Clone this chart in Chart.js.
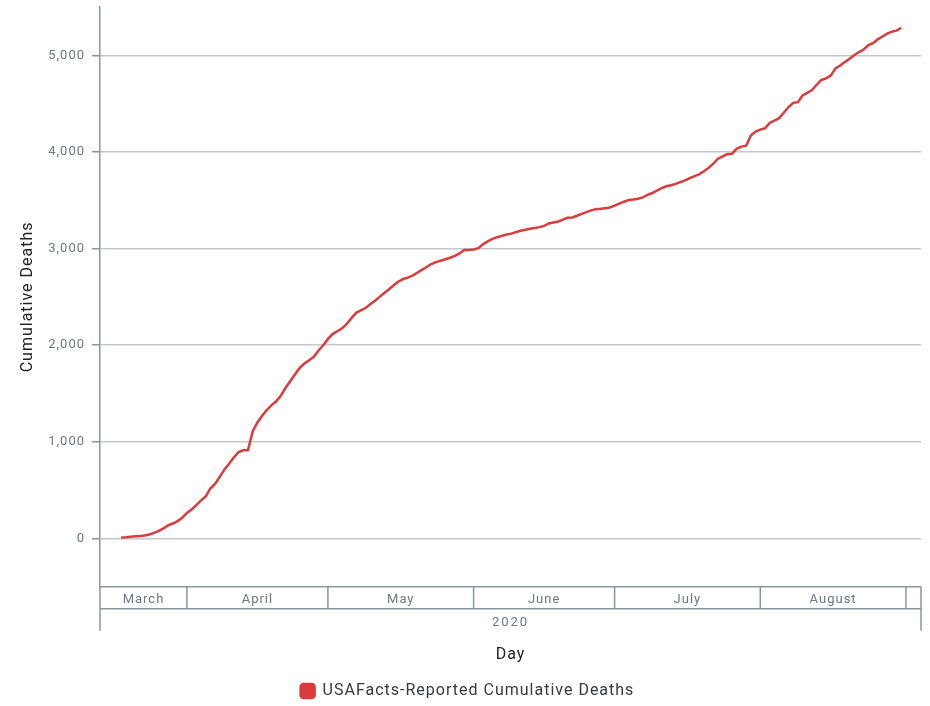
<!DOCTYPE html>
<html>
<head>
<meta charset="utf-8">
<script src="https://cdn.jsdelivr.net/npm/chart.js@4.4.1/dist/chart.umd.min.js"></script>
<style>
  html, body { margin: 0; padding: 0; background: #ffffff; }
  #wrap { width: 930px; height: 706px; position: relative; }
</style>
</head>
<body>
<div id="wrap"><canvas id="c"></canvas></div>
<script>
// Day index: 0 = March 1, 2020
const firstDay = 17; // March 18
const deaths = [
  10, 13, 18, 22, 25, 30, 42, 58, 78, 105, 135, 155, 180, 215,
  265, 300, 345, 395, 435, 520, 565, 640, 715, 775, 840, 895, 912, 915, 1110, 1200,
  1270, 1330, 1380, 1420, 1480, 1560, 1630, 1700, 1765, 1810, 1845, 1880, 1945, 2000,
  2065, 2115, 2145, 2175, 2220, 2280, 2335, 2360, 2385, 2425, 2460, 2500, 2540, 2580,
  2620, 2660, 2685, 2700, 2720, 2750, 2780, 2810, 2840, 2860, 2875, 2890, 2905, 2925,
  2950, 2985, 2985,
  2990, 3005, 3045, 3075, 3100, 3118, 3132, 3145, 3155, 3170, 3185, 3195, 3205, 3212,
  3222, 3235, 3260, 3270, 3280, 3300, 3318, 3322, 3340, 3360, 3378, 3395, 3408, 3412,
  3418, 3425,
  3445, 3465, 3485, 3503, 3508, 3515, 3530, 3555, 3575, 3600, 3625, 3645, 3656, 3670,
  3688, 3705, 3730, 3750, 3768, 3800, 3835, 3880, 3930, 3955, 3978, 3982, 4035, 4055,
  4065, 4170, 4210,
  4231, 4245, 4300, 4325, 4350, 4405, 4465, 4508, 4515, 4585, 4612, 4640, 4695, 4745,
  4761, 4790, 4865, 4895, 4930, 4965, 5000, 5034, 5060, 5105, 5125, 5165, 5195, 5225,
  5245, 5255, 5285
];
const monthNames = ['March', 'April', 'May', 'June', 'July', 'August', ''];
const monthStarts = [0, 31, 61, 92, 122, 153, 184];
const monthEnds = [31, 61, 92, 122, 153, 184, 214];
const yearLabel = '2020';
const yTicks = [0, 1000, 2000, 3000, 4000, 5000];

const points = deaths.map((v, i) => ({ x: firstDay + i, y: v }));

const axisColor = '#8b959d';
const tickColor = '#6b7886';
const fontFamily = 'Roboto, "DejaVu Sans", sans-serif';

const spacing = {
  id: 'spacing',
  beforeUpdate(chart) { chart.ctx.letterSpacing = '1px'; },
  beforeLayout(chart) { chart.ctx.letterSpacing = '1px'; },
  afterLayout(chart) {
    if (chart.legend) { chart.legend.left += 7; chart.legend.right += 7; }
  },
  beforeDraw(chart) { chart.ctx.letterSpacing = '1px'; }
};

const monthBoxes = {
  id: 'monthBoxes',
  afterDraw(chart) {
    const { ctx, chartArea } = chart;
    const xs = chart.scales.x;
    const top = chartArea.bottom;
    const rowH = 22;
    const left = chartArea.left, right = chartArea.right;
    ctx.save();
    ctx.strokeStyle = axisColor;
    ctx.lineWidth = 1.5;
    ctx.beginPath();
    ctx.moveTo(left, top); ctx.lineTo(right, top);
    ctx.moveTo(left, top + rowH); ctx.lineTo(right, top + rowH);
    ctx.moveTo(left, top); ctx.lineTo(left, top + rowH * 2);
    ctx.moveTo(right, top); ctx.lineTo(right, top + rowH * 2);
    for (let i = 0; i < monthStarts.length; i++) {
      const px = xs.getPixelForValue(monthStarts[i]);
      if (px > left + 1 && px < right - 1) {
        ctx.moveTo(px, top); ctx.lineTo(px, top + rowH);
      }
    }
    ctx.stroke();
    ctx.fillStyle = tickColor;
    ctx.font = '13px ' + fontFamily;
    ctx.textAlign = 'center';
    ctx.textBaseline = 'middle';
    ctx.letterSpacing = '1px';
    for (let i = 0; i < monthNames.length; i++) {
      const a = Math.max(left, xs.getPixelForValue(monthStarts[i]));
      const b = Math.min(right, xs.getPixelForValue(monthEnds[i]));
      if (b - a > 40 && monthNames[i]) {
        ctx.fillText(monthNames[i], (a + b) / 2, top + rowH / 2 + 2);
      }
    }
    ctx.letterSpacing = '2px';
    ctx.fillText(yearLabel, (left + right) / 2, top + rowH + 14);
    ctx.restore();
  }
};

new Chart(document.getElementById('c'), {
  type: 'line',
  data: {
    datasets: [{
      label: 'USAFacts-Reported Cumulative Deaths',
      data: points,
      borderColor: '#dc3a3c',
      backgroundColor: '#dc3a3c',
      borderWidth: 2.5,
      pointRadius: 0,
      tension: 0,
      fill: false
    }]
  },
  options: {
    responsive: true,
    maintainAspectRatio: false,
    devicePixelRatio: 1,
    animation: false,
    layout: { padding: { top: 7, right: 9, left: 0, bottom: -3 } },
    plugins: {
      tooltip: { enabled: false },
      legend: {
        position: 'bottom',
        labels: {
          boxWidth: 14,
          boxHeight: 14,
          useBorderRadius: true,
          borderRadius: 3,
          padding: 6,
          color: '#333a40',
          font: { size: 16, family: fontFamily }
        }
      }
    },
    scales: {
      x: {
        type: 'linear',
        min: 12.5,
        max: 187.2,
        ticks: { display: false },
        grid: { display: false },
        border: { display: false },
        title: {
          display: true,
          text: 'Day',
          color: '#222222',
          font: { size: 16, family: fontFamily },
          padding: { top: 51, bottom: 12 }
        }
      },
      y: {
        min: -500,
        max: 5500,
        afterBuildTicks(scale) { scale.ticks = yTicks.map(v => ({ value: v })); },
        afterFit(scale) { scale.width = 100; scale.paddingTop = 0; scale.paddingBottom = 0; },
        ticks: {
          color: tickColor,
          padding: 7,
          font: { size: 13, family: fontFamily },
          callback: v => v.toLocaleString('en-US')
        },
        grid: { color: '#c2c8cd', lineWidth: 1.5, tickLength: 8, tickColor: axisColor },
        border: { color: axisColor, width: 1.5 },
        title: {
          display: true,
          text: 'Cumulative Deaths',
          color: '#222222',
          font: { size: 16, family: fontFamily },
          padding: { top: 18, bottom: 0 }
        }
      }
    }
  },
  plugins: [spacing, monthBoxes]
});
</script>
</body>
</html>
